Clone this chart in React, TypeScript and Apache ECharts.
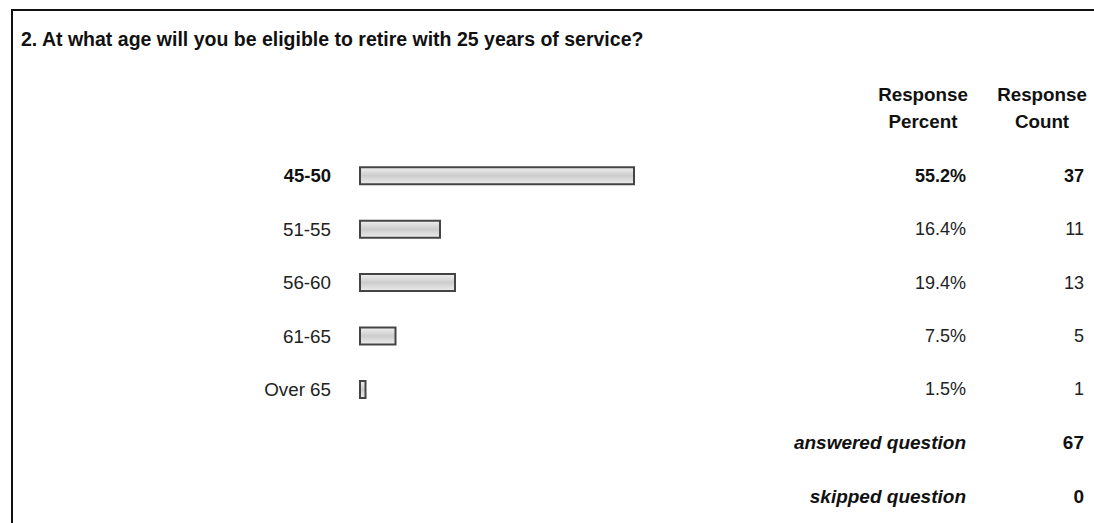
import React, { useEffect, useRef } from "react";
import * as echarts from "echarts";

const titleText = "2. At what age will you be eligible to retire with 25 years of service?";
const headerPercent = ["Response", "Percent"];
const headerCount = ["Response", "Count"];
const ageRanges = ["45-50", "51-55", "56-60", "61-65", "Over 65"];
const responsePercent = [55.2, 16.4, 19.4, 7.5, 1.5];
const responseCount = [37, 11, 13, 5, 1];
const summaryLabels = ["answered question", "skipped question"];
const summaryValues = [67, 0];

const FONT = "'Liberation Sans', Arial, sans-serif";

export default function App() {
  const ref = useRef<HTMLDivElement>(null);

  useEffect(() => {
    if (!ref.current) return;
    const chart = echarts.init(ref.current, undefined, { renderer: "svg" });
    const rows = [...ageRanges, ...summaryLabels];
    const maxIdx = responsePercent.indexOf(Math.max(...responsePercent));

    const rich = {
      b: { fontFamily: FONT, fontSize: 18, fontWeight: "bold", color: "#111" },
      n: { fontFamily: FONT, fontSize: 18, fontWeight: "normal", color: "#222" },
      lb: { fontFamily: FONT, fontSize: 18.5, fontWeight: "bold", color: "#111" },
      ln: { fontFamily: FONT, fontSize: 18.8, fontWeight: "normal", color: "#222" },
      bi: { fontFamily: FONT, fontSize: 19, fontWeight: "bold", fontStyle: "italic", color: "#111" },
      bs: { fontFamily: FONT, fontSize: 19, fontWeight: "bold", color: "#111" },
    };

    const gridLeft = 359;
    const gridWidth = 500;
    const gridTop = 149;
    const gridHeight = 54.25 * rows.length;

    const baseYAxis = {
      type: "category",
      data: rows,
      inverse: true,
      axisLine: { show: false },
      axisTick: { show: false },
      splitLine: { show: false },
    };

    chart.setOption({
      animation: false,
      backgroundColor: "#ffffff",
      grid: { left: gridLeft, top: gridTop, width: gridWidth, height: gridHeight, containLabel: false },
      xAxis: { type: "value", min: 0, max: 100, show: false },
      yAxis: [
        {
          ...baseYAxis,
          position: "left",
          axisLabel: {
            interval: 0,
            margin: 28,
            rich,
            formatter: (v: string, i: number) =>
              i < ageRanges.length ? (i === maxIdx ? `{lb|${v}}` : `{ln|${v}}`) : "",
          },
        },
        {
          ...baseYAxis,
          position: "right",
          offset: 0,
          axisLabel: {
            interval: 0,
            margin: 107,
            align: "right",
            rich,
            formatter: (_v: string, i: number) => {
              if (i < responsePercent.length) {
                const t = responsePercent[i].toFixed(1) + "%";
                return i === maxIdx ? `{b|${t}}` : `{n|${t}}`;
              }
              return `{bi|${summaryLabels[i - responsePercent.length]}}`;
            },
          },
        },
        {
          ...baseYAxis,
          position: "right",
          offset: 118,
          axisLabel: {
            interval: 0,
            margin: 107,
            align: "right",
            rich,
            formatter: (_v: string, i: number) => {
              if (i < responseCount.length) {
                const t = String(responseCount[i]);
                return i === maxIdx ? `{b|${t}}` : `{n|${t}}`;
              }
              return `{bs|${summaryValues[i - responseCount.length]}}`;
            },
          },
        },
      ],
      series: [
        {
          type: "bar",
          yAxisIndex: 0,
          data: [...responsePercent, "-", "-"],
          barWidth: 19,
          itemStyle: {
            color: new echarts.graphic.LinearGradient(0, 0, 0, 1, [
              { offset: 0, color: "#f0f0f0" },
              { offset: 0.5, color: "#cccccc" },
              { offset: 1, color: "#ededed" },
            ]),
            borderColor: "#444444",
            borderWidth: 2,
          },
          silent: true,
        },
      ],
      graphic: [
        {
          type: "rect",
          shape: { x: 12, y: 10, width: 1200, height: 600 },
          style: { fill: "none", stroke: "#111", lineWidth: 2 },
          silent: true,
        },
        {
          type: "text",
          x: 21,
          y: 39,
          style: {
            text: titleText,
            font: `bold 19.5px ${FONT}`,
            fill: "#111",
            verticalAlign: "middle",
            align: "left",
          },
        },
        ...headerPercent.map((t, i) => ({
          type: "text",
          x: 923,
          y: 94 + i * 27,
          style: { text: t, font: `bold 18.8px ${FONT}`, fill: "#111", align: "center", verticalAlign: "middle" },
        })),
        ...headerCount.map((t, i) => ({
          type: "text",
          x: 1042,
          y: 94 + i * 27,
          style: { text: t, font: `bold 18.8px ${FONT}`, fill: "#111", align: "center", verticalAlign: "middle" },
        })),
      ],
    });

    return () => chart.dispose();
  }, []);

  return (
    <div
      ref={ref}
      style={{ position: "fixed", left: 0, top: 0, width: 1094, height: 523, background: "#fff" }}
    />
  );
}
